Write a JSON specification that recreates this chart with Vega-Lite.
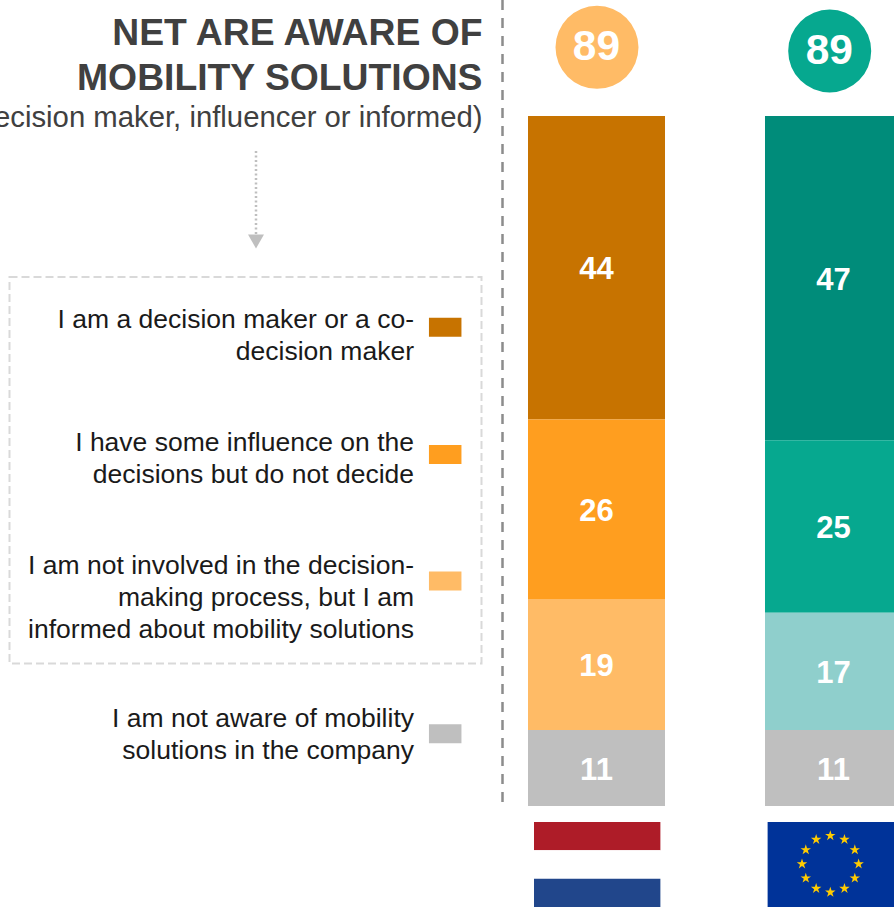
{
"$schema":"https://vega.github.io/schema/vega-lite/v6.json",
"width":894,"height":909,"autosize":"none","padding":0,"background":"white",
"config":{"view":{"stroke":null},"font":"Liberation Sans"},
"title":{"text":["NET ARE AWARE OF","MOBILITY SOLUTIONS"],"subtitle":"(decision maker, influencer or informed)","anchor":"end","frame":"group","orient":"top","align":"right","dx":-411.5,"offset":-136,"font":"Liberation Sans","fontSize":37.3,"fontWeight":"bold","color":"#404040","lineHeight":45,"subtitleFont":"Liberation Sans","subtitleFontSize":29.3,"subtitleColor":"#404040","subtitlePadding":6,"limit":900},
"datasets":{
"shares":[
{"group":"Netherlands","response":"Decision maker","rank":1,"share":44,"shade":"NL decision"},
{"group":"Netherlands","response":"Some influence","rank":2,"share":26,"shade":"NL influence"},
{"group":"Netherlands","response":"Informed","rank":3,"share":19,"shade":"NL informed"},
{"group":"Netherlands","response":"Not aware","rank":4,"share":11,"shade":"Not aware"},
{"group":"EU","response":"Decision maker","rank":1,"share":47,"shade":"EU decision"},
{"group":"EU","response":"Some influence","rank":2,"share":25,"shade":"EU influence"},
{"group":"EU","response":"Informed","rank":3,"share":17,"shade":"EU informed"},
{"group":"EU","response":"Not aware","rank":4,"share":11,"shade":"Not aware"}],
"net":[{"group":"Netherlands","net":89,"shade":"NL informed"},{"group":"EU","net":89,"shade":"EU influence"}],
"legend":[
{"rank":1,"lines":["I am a decision maker or a co-","decision maker"],"shade":"NL decision"},
{"rank":2,"lines":["I have some influence on the","decisions but do not decide"],"shade":"NL influence"},
{"rank":3,"lines":["I am not involved in the decision-","making process, but I am","informed about mobility solutions"],"shade":"NL informed"},
{"rank":4,"lines":["I am not aware of mobility","solutions in the company"],"shade":"Not aware"}],
"stripes":[{"flag":"Netherlands","stripe":"top","part":"NL red"},{"flag":"Netherlands","stripe":"middle","part":"NL white"},{"flag":"Netherlands","stripe":"bottom","part":"NL blue"}],
"euflag":[{"flag":"EU","part":"EU blue"}],
"stars":[{"e":0,"n":1},{"e":0.5,"n":0.866},{"e":0.866,"n":0.5},{"e":1,"n":0},{"e":0.866,"n":-0.5},{"e":0.5,"n":-0.866},{"e":0,"n":-1},{"e":-0.5,"n":-0.866},{"e":-0.866,"n":-0.5},{"e":-1,"n":0},{"e":-0.866,"n":0.5},{"e":-0.5,"n":0.866}],
"parts":[{"part":"box"}]
},
"resolve":{"scale":{"x":"independent","y":"independent","color":"independent","size":"independent"}},
"layer":[
{"data":{"name":"parts"},"mark":{"type":"rule","stroke":"#8c8c8c","strokeWidth":2.5,"strokeDash":[10,8]},
 "encoding":{"x":{"datum":"divider","scale":{"type":"point","domain":["divider"],"range":[502.5,502.5]},"axis":null},
 "y":{"datum":0,"type":"quantitative","scale":{"domain":[0,1],"range":[0,805],"nice":false,"zero":false},"axis":null},"y2":{"datum":1}}},
{"data":{"name":"parts"},"mark":{"type":"rect","fill":"transparent","stroke":"#d9d9d9","strokeWidth":2,"strokeDash":[8,4]},
 "encoding":{"x":{"field":"part","type":"nominal","scale":{"type":"band","domain":["box"],"range":[9.5,481.5],"padding":0},"axis":null},
 "y":{"field":"part","type":"nominal","scale":{"type":"band","domain":["box"],"range":[277,663.5],"padding":0},"axis":null}}},
{"data":{"name":"parts"},"mark":{"type":"rule","stroke":"#bfbfbf","strokeWidth":2.5,"strokeDash":[2,2.5]},
 "encoding":{"x":{"datum":"arrow","scale":{"type":"point","domain":["arrow"],"range":[256,256]},"axis":null},
 "y":{"datum":0,"type":"quantitative","scale":{"domain":[0,1],"range":[151,236],"nice":false,"zero":false},"axis":null},"y2":{"datum":1}}},
{"data":{"name":"parts"},"mark":{"type":"point","shape":"triangle-down","filled":true,"fill":"#bfbfbf","opacity":1,"size":256},
 "encoding":{"x":{"datum":"arrow","scale":{"type":"point","domain":["arrow"],"range":[256,256]},"axis":null},
 "y":{"datum":1,"type":"quantitative","scale":{"domain":[0,1],"range":[151,241.5],"nice":false,"zero":false},"axis":null}}},
{"data":{"name":"shares"},
 "transform":[{"stack":"share","groupby":["group"],"sort":[{"field":"rank","order":"descending"}],"as":["y0","y1"]}],
 "mark":{"type":"bar"},
 "encoding":{"x":{"field":"group","type":"nominal","scale":{"type":"band","domain":["Netherlands","EU"],"range":[528,902],"paddingInner":0.4219,"paddingOuter":0},"axis":null},
 "y":{"field":"y0","type":"quantitative","scale":{"domain":[0,100],"range":[806,116],"nice":false,"zero":false},"axis":null},"y2":{"field":"y1"},
 "color":{"field":"shade","type":"nominal","legend":null,"scale":{"domain":["NL decision","NL influence","NL informed","EU decision","EU influence","EU informed","Not aware"],"range":["#C77300","#FF9E1F","#FFBB66","#008C7A","#06A88F","#8FCFCC","#BFBFBF"]}}}},
{"data":{"name":"shares"},
 "transform":[{"stack":"share","groupby":["group"],"sort":[{"field":"rank","order":"descending"}],"as":["y0","y1"]},{"fold":["y0","y1"],"as":["edge","pos"]}],
 "mark":{"type":"text","color":"white","fontWeight":"bold","fontSize":31,"baseline":"middle","align":"center","dy":2.5},
 "encoding":{"x":{"field":"group","type":"nominal","scale":{"type":"band","domain":["Netherlands","EU"],"range":[528,902],"paddingInner":0.4219,"paddingOuter":0},"axis":null},
 "y":{"aggregate":"mean","field":"pos","type":"quantitative","scale":{"domain":[0,100],"range":[806,116],"nice":false,"zero":false},"axis":null},
 "detail":{"field":"response"},"text":{"field":"share","type":"quantitative"}}},
{"data":{"name":"net"},"mark":{"type":"point","shape":"circle","filled":true,"opacity":1,"size":6889},
 "encoding":{"x":{"field":"group","type":"nominal","scale":{"type":"point","domain":["Netherlands","EU"],"range":[597,829.7],"padding":0},"axis":null},
 "y":{"field":"group","type":"nominal","scale":{"type":"point","domain":["Netherlands","EU"],"range":[47.3,51],"padding":0},"axis":null},
 "color":{"field":"shade","type":"nominal","legend":null,"scale":{"domain":["NL informed","EU influence"],"range":["#FFBB66","#06A88F"]}}}},
{"data":{"name":"net"},"mark":{"type":"text","color":"white","fontWeight":"bold","fontSize":42.5,"baseline":"middle","align":"center"},
 "encoding":{"x":{"field":"group","type":"nominal","scale":{"type":"point","domain":["Netherlands","EU"],"range":[596.5,829.3],"padding":0},"axis":null},
 "y":{"field":"group","type":"nominal","scale":{"type":"point","domain":["Netherlands","EU"],"range":[47,50.5],"padding":0},"axis":null},
 "text":{"field":"net","type":"quantitative"}}},
{"data":{"name":"legend"},"mark":{"type":"text","align":"right","baseline":"alphabetic","fontSize":26.5,"lineHeight":32,"color":"#1a1a1a"},
 "encoding":{"x":{"datum":"label","scale":{"type":"point","domain":["label"],"range":[414,414]},"axis":null},
 "y":{"field":"rank","type":"quantitative","scale":{"domain":[1,2,3,4],"range":[328,451,574,727],"nice":false,"zero":false},"axis":null},
 "text":{"field":"lines"}}},
{"data":{"name":"legend"},"mark":{"type":"point","shape":"M-1,-0.585H1V0.585H-1Z","filled":true,"opacity":1,"size":1056},
 "encoding":{"x":{"datum":"swatch","scale":{"type":"point","domain":["swatch"],"range":[445.2,445.2]},"axis":null},
 "y":{"field":"rank","type":"quantitative","scale":{"domain":[1,2,3,4],"range":[327.2,454.5,581,733.8],"nice":false,"zero":false},"axis":null},
 "color":{"field":"shade","type":"nominal","legend":null,"scale":{"domain":["NL decision","NL influence","NL informed","Not aware"],"range":["#C77300","#FF9E1F","#FFBB66","#BFBFBF"]}}}},
{"data":{"name":"stripes"},"mark":{"type":"rect"},
 "encoding":{"x":{"field":"flag","type":"nominal","scale":{"type":"band","domain":["Netherlands","EU"],"range":[534,894],"paddingInner":0.459,"paddingOuter":0},"axis":null},
 "y":{"field":"stripe","type":"nominal","scale":{"type":"band","domain":["top","middle","bottom"],"range":[822,907],"padding":0},"axis":null},
 "color":{"field":"part","type":"nominal","legend":null,"scale":{"domain":["NL red","NL white","NL blue"],"range":["#AE1C28","#FFFFFF","#21468B"]}}}},
{"data":{"name":"euflag"},"mark":{"type":"rect","fill":"#003399"},
 "encoding":{"x":{"field":"flag","type":"nominal","scale":{"type":"band","domain":["Netherlands","EU"],"range":[534,894],"paddingInner":0.459,"paddingOuter":0},"axis":null},
 "y":{"field":"flag","type":"nominal","scale":{"type":"band","domain":["EU"],"range":[822,907],"padding":0},"axis":null}}},
{"data":{"name":"stars"},"mark":{"type":"point","shape":"M0,-1L0.225,-0.309L0.951,-0.309L0.363,0.118L0.588,0.809L0,0.382L-0.588,0.809L-0.363,0.118L-0.951,-0.309L-0.225,-0.309Z","filled":true,"fill":"#FFCC00","opacity":1,"size":121},
 "encoding":{"x":{"field":"e","type":"quantitative","scale":{"domain":[-1,1],"range":[802,858.6],"nice":false,"zero":false},"axis":null},
 "y":{"field":"n","type":"quantitative","scale":{"domain":[-1,1],"range":[892.3,835.7],"nice":false,"zero":false},"axis":null}}}
]
}
